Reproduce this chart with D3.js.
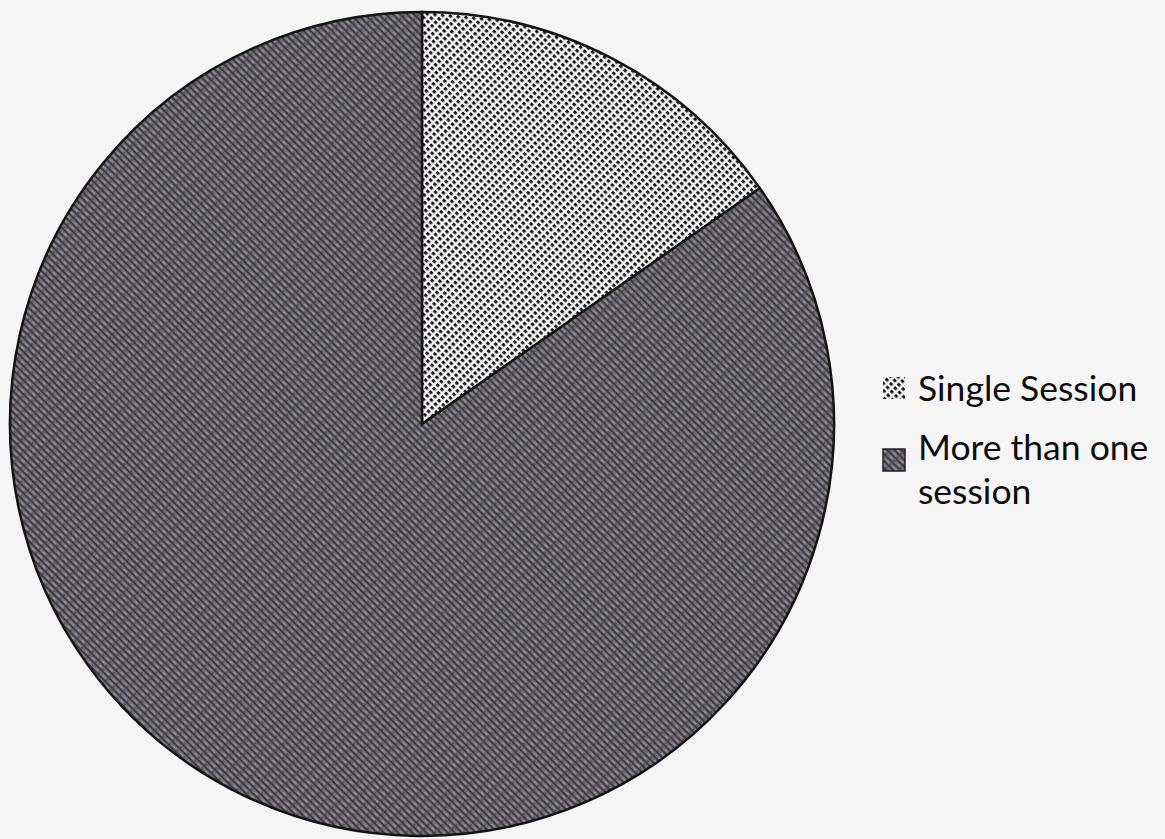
<!DOCTYPE html>
<html>
<head>
<meta charset="utf-8">
<script src="https://cdn.jsdelivr.net/npm/d3@7"></script>
<style>
  html, body { margin: 0; padding: 0; background: #f6f5f5; }
  svg { display: block; }
</style>
</head>
<body>
<div id="viz"></div>
<script>
// chart data
var categories = ["Single Session", "More than one session"];
var values = [15.3, 84.7];
var legendLines = [["Single Session"], ["More than one", "session"]];

var width = 1165, height = 839;
var cx = 422, cy = 424, radius = 412;

const svg = d3.select("#viz")
  .append("svg")
  .attr("width", width)
  .attr("height", height);

svg.append("rect")
  .attr("width", width)
  .attr("height", height)
  .attr("fill", "#f6f5f5");

const defs = svg.append("defs");

// dotted pattern for the small slice
var dots = defs.append("pattern")
  .attr("id", "pat-single")
  .attr("patternUnits", "userSpaceOnUse")
  .attr("width", 6)
  .attr("height", 5)
  .attr("patternTransform", "rotate(45)");
dots.append("rect").attr("width", 6).attr("height", 5).attr("fill", "#f4f4f4");
dots.append("rect").attr("x", 0).attr("y", 0).attr("width", 3.4).attr("height", 2.8).attr("fill", "#111");

// dark hatched pattern for the large slice
var hatch = defs.append("pattern")
  .attr("id", "pat-more")
  .attr("patternUnits", "userSpaceOnUse")
  .attr("width", 10)
  .attr("height", 5)
  .attr("patternTransform", "rotate(45)");
hatch.append("rect").attr("width", 10).attr("height", 5).attr("fill", "#757079");
hatch.append("rect").attr("x", 0).attr("y", 0).attr("width", 10).attr("height", 1.7).attr("fill", "#363337");
hatch.append("rect").attr("x", 2).attr("y", 2.8).attr("width", 4).attr("height", 1).attr("fill", "#a49eaa");
hatch.append("rect").attr("x", 7).attr("y", 3.4).attr("width", 2).attr("height", 1.2).attr("fill", "#454147");

var fills = d3.scaleOrdinal()
  .domain(categories)
  .range(["url(#pat-single)", "url(#pat-more)"]);

var pie = d3.pie().sort(null).value(d => d.value);
var arc = d3.arc().innerRadius(0).outerRadius(radius);

var data = categories.map((c, i) => ({ name: c, value: values[i] }));

const g = svg.append("g")
  .attr("transform", "translate(" + cx + "," + cy + ")");

g.selectAll("path")
  .data(pie(data))
  .join("path")
  .attr("d", arc)
  .attr("fill", d => fills(d.data.name))
  .attr("stroke", "#141414")
  .attr("stroke-width", 2.5);

// legend
var legendX = 883, textX = 918;
var legendRowY = [401, 460];
var lineStep = 44;

const legend = svg.append("g");

categories.forEach(function (c, i) {
  var y = legendRowY[i];
  var lines = legendLines[i];
  var boxMid = i == 0 ? y - 13 : y;
  legend.append("rect")
    .attr("x", legendX)
    .attr("y", boxMid - 11)
    .attr("width", 22)
    .attr("height", 22)
    .attr("fill", fills(c))
    .attr("stroke", i == 0 ? "none" : "#222")
    .attr("stroke-width", 1.5);

  lines.forEach(function (t, j) {
    legend.append("text")
      .attr("x", textX)
      .attr("y", y + j * lineStep)
      .attr("font-family", "Lato, 'Open Sans', sans-serif")
      .attr("font-size", 35.5)
      .attr("fill", "#0d0d0d")
      .text(t);
  });
});
</script>
</body>
</html>
